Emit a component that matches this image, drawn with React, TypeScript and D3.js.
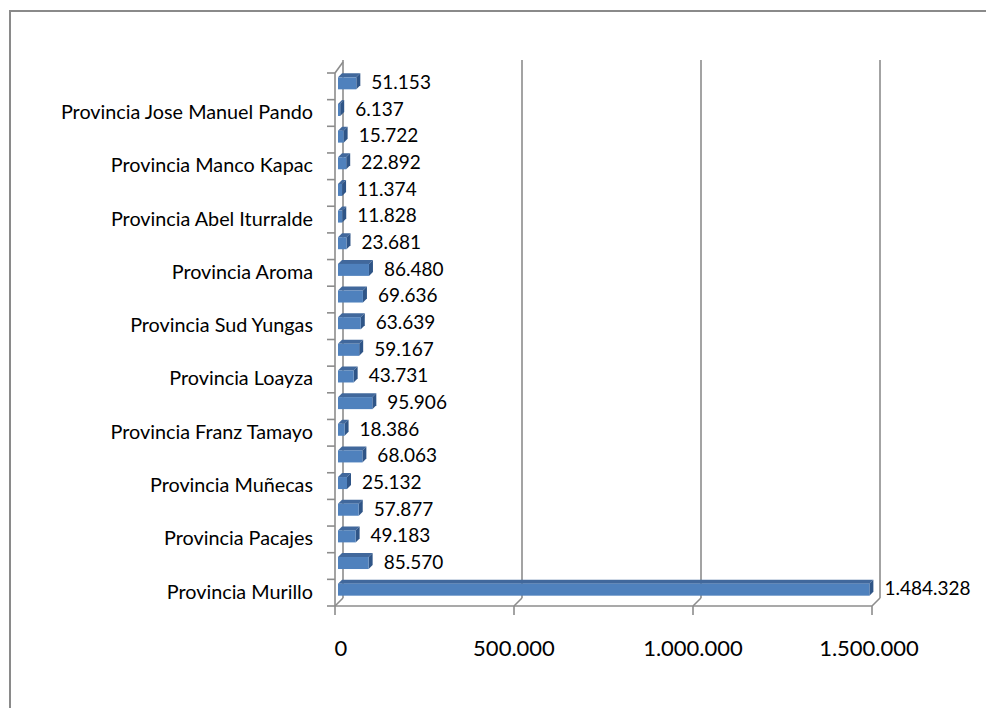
import React from "react";
import * as d3 from "d3";

// categories bottom -> top
const provinces = [
  "Provincia Murillo",
  "Provincia Omasuyos",
  "Provincia Pacajes",
  "Provincia Camacho",
  "Provincia Muñecas",
  "Provincia Larecaja",
  "Provincia Franz Tamayo",
  "Provincia Ingavi",
  "Provincia Loayza",
  "Provincia Inquisivi",
  "Provincia Sud Yungas",
  "Provincia Los Andes",
  "Provincia Aroma",
  "Provincia Nor Yungas",
  "Provincia Abel Iturralde",
  "Provincia Bautista Saavedra",
  "Provincia Manco Kapac",
  "Provincia Gualberto Villarroel",
  "Provincia Jose Manuel Pando",
  "Provincia Caranavi",
];
const population = [
  1484328, 85570, 49183, 57877, 25132, 68063, 18386, 95906, 43731, 59167,
  63639, 69636, 86480, 23681, 11828, 11374, 22892, 15722, 6137, 51153,
];
const ticks = [0, 500000, 1000000, 1500000];

const fmt = (v: number) => d3.format(",")(v).replace(/,/g, ".");
const font = "Lato, 'Open Sans', sans-serif";

export default function App() {
  const W = 986,
    H = 708;
  const depth = 8; // 3D offset
  const x = d3.scaleLinear().domain([0, 1500000]).range([335, 872]);
  const y = d3
    .scaleBand<string>()
    .domain(provinces)
    .range([606, 73])
    .padding(0);
  const bw = y.bandwidth();
  const grid = "#8c8c8c";

  const barH = 12;
  const d1 = 3,
    d2 = 7;

  return (
    <svg width={W} height={H} style={{ display: "block", position: "absolute", left: 0, top: 0 }}>
      <rect width={W} height={H} fill="#fff" />
      {/* frame */}
      <path d={`M10,${H + 5} V11 H${W + 5}`} fill="none" stroke="#8a8a8a" strokeWidth={2} />

      {/* back wall gridlines */}
      {ticks.map((t) => (
        <line key={"g" + t} x1={x(t) + depth} x2={x(t) + depth} y1={60} y2={606 - depth} stroke={grid} strokeWidth={1.6} />
      ))}
      {/* floor diagonals and ticks */}
      {ticks.map((t) => (
        <g key={"f" + t}>
          <line x1={x(t)} y1={606} x2={x(t) + depth} y2={606 - depth} stroke={grid} strokeWidth={1.6} />
          <line x1={x(t)} y1={606} x2={x(t)} y2={615} stroke={grid} strokeWidth={1.6} />
        </g>
      ))}
      <line x1={x(0)} x2={x(1500000)} y1={606} y2={606} stroke={grid} strokeWidth={1.6} />
      {/* category axis */}
      <line x1={x(0)} x2={x(0)} y1={73} y2={606} stroke={grid} strokeWidth={1.6} />
      <line x1={x(0)} y1={73} x2={x(0) + depth} y2={73 - depth - 3} stroke={grid} strokeWidth={1.6} />
      {d3.range(provinces.length + 1).map((i) => {
        const yy = 606 - i * bw;
        return <line key={"t" + i} x1={327} x2={x(0)} y1={yy} y2={yy} stroke={grid} strokeWidth={1.6} />;
      })}

      {/* bars */}
      {provinces.map((p, i) => {
        const v = population[i];
        const cy = (y(p) ?? 0) + bw / 2;
        const x0 = x(0) + d1;
        const x1 = x(v) + d1;
        const top = cy - barH / 2 - d1;
        const bot = top + barH;
        const dd = d2 - d1;
        return (
          <g key={p}>
            <path d={`M${x0},${top} L${x0 + dd},${top - dd} L${x1 + dd},${top - dd} L${x1},${top} Z`} fill="#41689c" />
            <path d={`M${x1},${top} L${x1 + dd},${top - dd} L${x1 + dd},${bot - dd} L${x1},${bot} Z`} fill="#2f5587" />
            <rect x={x0} y={top} width={x1 - x0} height={barH} fill="#4f81bd" />
            <text
              x={x(v) + 18}
              y={cy - 2}
              dominantBaseline="middle"
              fontFamily={font}
              fontSize={19}
              fill="#000"
            >
              {fmt(v)}
            </text>
          </g>
        );
      })}

      {/* category labels, every other */}
      {provinces.map((p, i) =>
        i % 2 === 0 ? (
          <text
            key={"l" + p}
            x={313}
            y={(y(p) ?? 0) + bw / 2 + 1}
            textAnchor="end"
            dominantBaseline="middle"
            fontFamily={font}
            fontSize={19.8}
            fill="#000"
          >
            {p}
          </text>
        ) : null
      )}

      {/* value tick labels */}
      {ticks.map((t) => (
        <text
          key={"v" + t}
          x={t === 0 ? x(t) + 6 : x(t) - (t === 1500000 ? 3 : 0)}
          y={650}
          textAnchor="middle"
          dominantBaseline="middle"
          fontFamily={font}
          fontSize={22}
          fill="#000"
        >
          {fmt(t)}
        </text>
      ))}
    </svg>
  );
}
